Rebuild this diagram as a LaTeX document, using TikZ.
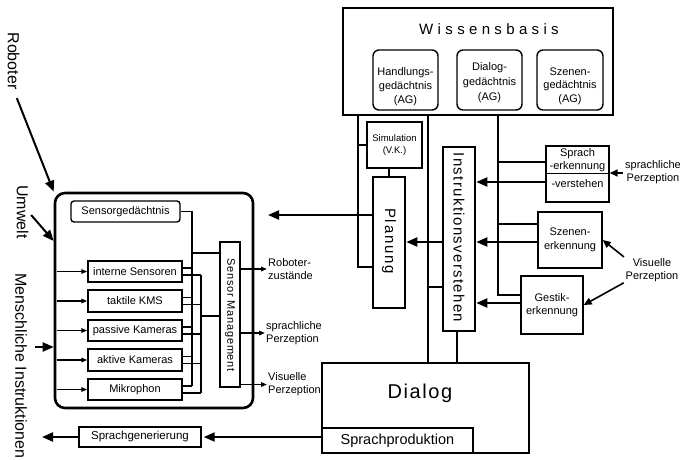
\documentclass[tikz,border=0pt]{standalone}
\usepackage{fontspec}
\setmainfont{Liberation Sans}
\usetikzlibrary{arrows.meta}

\newcommand{\fs}[2]{\fontsize{#1}{#2}\selectfont}

\begin{document}
\begin{tikzpicture}[x=1pt,y=-1pt,
  heavy/.style={draw, line width=2.6pt, inner sep=0pt},
  plain/.style={draw, line width=1.4pt, inner sep=0pt},
  mem/.style={plain, rounded corners=6pt},
  txt/.style={inner sep=0pt, align=center, font=\fs{11}{13}},
  side/.style={inner sep=0pt, rotate=-90, font=\fs{16}{19}},
  conn/.style={line width=2pt},
  bus/.style={line width=1.5pt},
  bigarr/.style={conn, -{Triangle[length=11pt,width=9pt]}},
  midarr/.style={line width=1.6pt, -{Triangle[length=8pt,width=7pt]}},
  smallarr/.style={line width=1.6pt, -{Triangle[length=6pt,width=4.5pt]}},
]
\fill[white] (0,0) rectangle (683,459);
\useasboundingbox (0,0) rectangle (683,459);

% ---------- knowledge base ----------
\node[heavy, minimum width=270pt, minimum height=107pt] (wb) at (478,61.5) {};
\node[txt, font=\fs{15}{18}\addfontfeature{LetterSpace=29}] (wbt) at (489,29) {Wissensbasis};
\node[mem, minimum width=65pt, minimum height=60pt] (hg) at (405.5,80) {};
\node[mem, minimum width=65pt, minimum height=60pt] (dg) at (489.5,80) {};
\node[mem, minimum width=66pt, minimum height=60pt] (sg) at (570,80) {};
\node[txt, font=\fs{11}{14}] (hgt) at (405.5,87) {Handlungs-\\gedächtnis\\(AG)};
\node[txt, font=\fs{11}{15}] (dgt) at (489.5,83) {Dialog-\\gedächtnis\\(AG)};
\node[txt, font=\fs{11}{13.5}] (sgt) at (570,86) {Szenen-\\gedächtnis\\(AG)};

% ---------- central modules ----------
\node[plain, minimum width=55pt, minimum height=46pt, align=center, font=\fs{9.5}{12}] (sim) at (394.5,145) {Simulation\\(V.K.)};
\node[heavy, minimum width=32pt, minimum height=131pt] (plan) at (389,242.5) {};
\node[side, font=\fs{15}{18}\addfontfeature{LetterSpace=12}] (plant) at (389,241) {Planung};
\node[heavy, minimum width=32pt, minimum height=184pt] (instr) at (459,239) {};
\node[side, font=\fs{15}{18}\addfontfeature{LetterSpace=9}] (instrt) at (459,237.5) {Instruktionsverstehen};

% ---------- recognition modules ----------
\node[plain, minimum width=63pt, minimum height=56pt] (sprach) at (577.5,174) {};
\draw[line width=1pt] (sprach.west |- 0,173) -- (sprach.east |- 0,173);
\node[txt] (sprachA) at (577.5,160.5) {Sprach\\-erkennung};
\node[txt] (sprachB) at (577.5,184) {-verstehen};
\node[plain, minimum width=64pt, minimum height=56pt, align=center, font=\fs{11}{14}] (szenen) at (570,240) {Szenen-\\erkennung};
\node[plain, minimum width=62pt, minimum height=58pt, align=center, font=\fs{11}{13.5}] (gestik) at (552,305) {Gestik-\\erkennung};

\node[txt] (sp) at (653,172.5) {sprachliche\\Perzeption};
\node[txt] (vp) at (652,270) {Visuelle\\Perzeption};

% ---------- dialog ----------
\node[heavy, minimum width=207pt, minimum height=90pt] (dialog) at (425.5,408) {};
\node[txt, font=\fs{20}{24}\addfontfeature{LetterSpace=8}] (dialogt) at (420,393) {Dialog};
\node[draw, line width=1.6pt, inner sep=0pt, minimum width=151pt, minimum height=25pt, font=\fs{14.5}{17}] (sprachprod) at (397.5,440.5) {Sprachproduktion};
\node[plain, minimum width=122pt, minimum height=20pt, font=\fs{11.5}{14}] (spgen) at (140,437) {Sprachgenerierung};

% ---------- robot ----------
\node[heavy, rounded corners=10pt, minimum width=198pt, minimum height=215pt] (robot) at (154,300.5) {};
\node[plain, rounded corners=3pt, minimum width=109pt, minimum height=21pt, font=\fs{11}{13}] (sgm) at (125.5,211.5) {Sensorgedächtnis};
\foreach \n/\y/\h/\t in {s1/271.5/21/interne Sensoren, s2/301/22/taktile KMS,
    s3/330.5/21/passive Kameras, s4/360/22/aktive Kameras, s5/389.5/21/Mikrophon}{
  \node[plain, minimum width=94pt, minimum height=\h pt, font=\fs{11}{13}] (\n) at (135,\y) {\t};
}
\node[plain, minimum width=20pt, minimum height=145pt] (sm) at (230,314.5) {};
\node[side, font=\fs{11}{13}\addfontfeature{LetterSpace=7}] (smt) at (230,315) {Sensor Management};

\node[txt, anchor=west, align=left] (o1) at (268,269) {Roboter-\\zustände};
\node[txt, anchor=west, align=left] (o2) at (266,333) {sprachliche\\Perzeption};
\node[txt, anchor=west, align=left] (o3) at (268,384.5) {Visuelle\\Perzeption};

% ---------- side labels ----------
\node[side] (lrob) at (13.5,61) {Roboter};
\node[side] (lumw) at (22.5,212) {Umwelt};
\node[side] (lmen) at (21,366) {Menschliche Instruktionen};

% ---------- junctions and free ends ----------
\coordinate (tL) at (358,0);
\coordinate (tM) at (428,0);
\coordinate (tR) at (498,0);
\coordinate (busA) at (192,0);
\coordinate (busB) at (201,0);
\coordinate (planout) at (268,215);
\coordinate (hout) at (42,437);
\coordinate (minst) at (35,347);

% knowledge base links
\draw[conn] (wb.south -| tL) |- (plan.west |- 0,267);
\draw[conn] (tL |- sim.west) -- (sim.west);
\draw[conn] (sim.south -| plan.north) -- (plan.north);
\draw[bigarr] (plan.west |- planout) -- (planout);
\draw[conn] (wb.south -| tM) -- (dialog.north -| tM);
\draw[conn] (tM |- 0,287) -- (instr.west |- 0,287);
\draw[conn] (instr.south -| 457,0) -- (dialog.north -| 457,0);
\draw[bigarr] (instr.west |- 0,242) -- (plan.east |- 0,242);
\draw[conn] (wb.south -| tR) |- (gestik.west |- 0,295);
\draw[conn] (tR |- 0,162) -- (sprach.west |- 0,162);
\draw[conn] (tR |- 0,224) -- (szenen.west |- 0,224);
\draw[bigarr] (sprach.west |- 0,182) -- (instr.east |- 0,182);
\draw[bigarr] (szenen.west |- 0,242) -- (instr.east |- 0,242);
\draw[bigarr] (gestik.west |- 0,303) -- (instr.east |- 0,303);

% perception inputs
\draw[midarr, shorten <=2pt] (sp.west |- 0,173) -- (sprach.east |- 0,173);
\draw[midarr, shorten <=2pt] (vp.north west) -- (szenen.east);
\draw[midarr, shorten <=2pt] (vp.south west) -- (gestik.east);

% speech output
\draw[bigarr, shorten >=2pt] (sprachprod.west |- spgen.east) -- (spgen.east);
\draw[bigarr] (spgen.west) -- (hout);

% side label arrows
\draw[bigarr, shorten <=9pt] (lrob.east) -- (robot.north west);
\draw[bigarr, shorten <=4pt] (lumw.north) -- (robot.west |- 0,241);
\draw[bigarr] (minst) -- (robot.west |- minst);

% sensor inputs and buses
\foreach \n in {s1,s2,s3,s4,s5}{
  \draw[smallarr] (robot.west |- \n.west) ++(3,0) -- (\n.west);
  \draw[bus] ([yshift=3.5pt]\n.east) -- ([yshift=3.5pt]\n.east -| busA);
  \draw[bus] ([yshift=-3.5pt]\n.east) -- ([yshift=-3.5pt]\n.east -| busB);
}
\draw[bus] (sgm.east) -| ([yshift=3.5pt]s5.east -| busA);
\draw[bus] ([yshift=-3.5pt]s1.east -| busB) -- ([yshift=-3.5pt]s5.east -| busB);
\draw[bus] (busA |- 0,253) -- (sm.west |- 0,253);
\draw[bus] (busB |- 0,316) -- (sm.west |- 0,316);

% sensor management outputs
\draw[smallarr, shorten >=1pt] (sm.east |- o1.west) -- (o1.west);
\draw[smallarr, shorten >=1pt] (sm.east |- o2.west) -- (o2.west);
\draw[smallarr, shorten >=1pt] (sm.east |- o3.west) -- (o3.west);
\end{tikzpicture}
\end{document}
